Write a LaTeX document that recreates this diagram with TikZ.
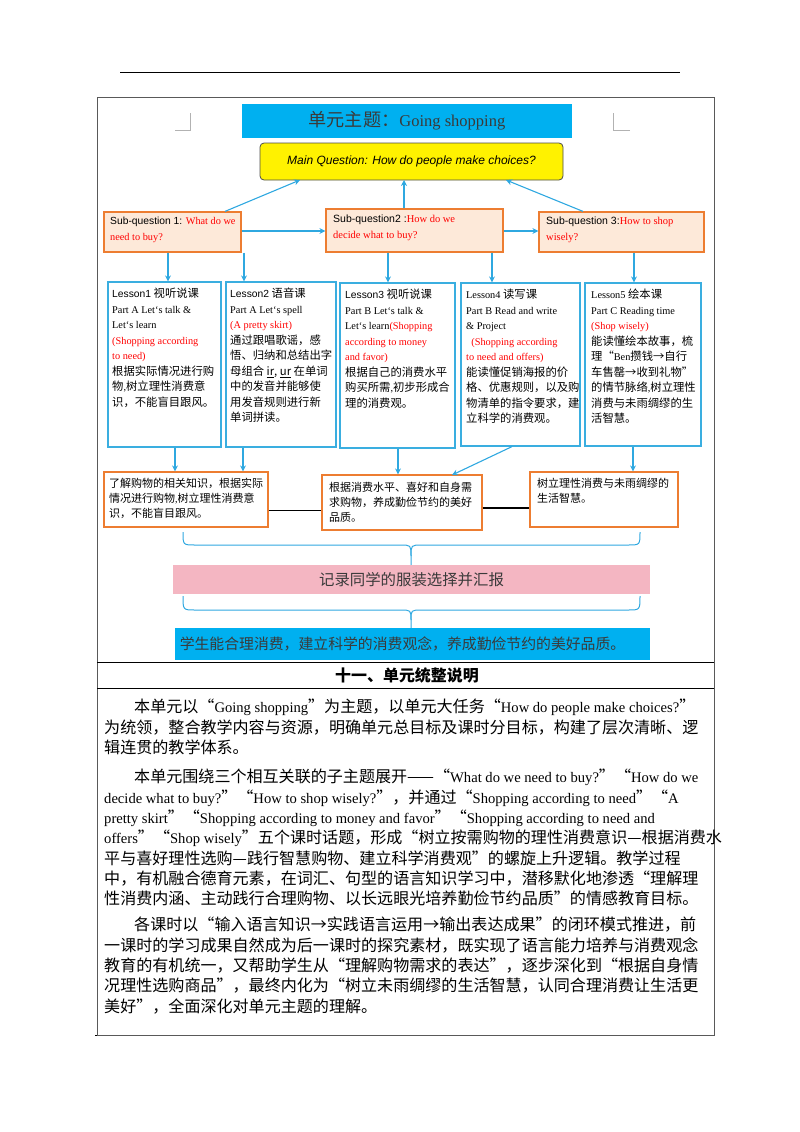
\documentclass[tikz,border=0pt]{standalone}
\usepackage{fontspec}
\usetikzlibrary{arrows.meta}
\setmainfont{Liberation Serif}
\newfontfamily\cjk[Scale=1.1]{Noto Sans CJK SC}
\newfontfamily\sansf{Liberation Sans}
\XeTeXlinebreaklocale "zh"
\XeTeXlinebreakskip=0pt plus 1pt
\newXeTeXintercharclass\cjkclass
\makeatletter
\count@="2E80 \loop\ifnum\count@<"A000 \XeTeXcharclass\count@=\cjkclass \advance\count@ 1 \repeat
\count@="3000 \loop\ifnum\count@<"3040 \XeTeXcharclass\count@=\cjkclass \advance\count@ 1 \repeat
\count@="FF00 \loop\ifnum\count@<"FFF0 \XeTeXcharclass\count@=\cjkclass \advance\count@ 1 \repeat
\makeatother
\XeTeXcharclass"201C=\cjkclass
\XeTeXcharclass"201D=\cjkclass
\XeTeXcharclass"2014=\cjkclass
\XeTeXcharclass"2192=\cjkclass
\XeTeXinterchartoks 0 \cjkclass = {\cjk}
\XeTeXinterchartoks 4095 \cjkclass = {\cjk}
\XeTeXinterchartoks \cjkclass 0 = {\rmfamily}
\XeTeXinterchartokenstate=1
\definecolor{titlec}{HTML}{00B0F0}
\definecolor{lessb}{HTML}{3AAEE0}
\definecolor{arr}{HTML}{2FA8E0}
\definecolor{sqfill}{HTML}{FDE9D9}
\definecolor{orb}{HTML}{ED7D31}
\definecolor{pinkc}{HTML}{F4B6C2}
\definecolor{redt}{HTML}{FF0000}
\definecolor{darkt}{HTML}{3A3A3A}
\tikzset{
 lbox/.style={draw=lessb,line width=1.2pt},
 sqbox/.style={draw=orb,fill=sqfill,line width=1.2pt},
 obox/.style={draw=orb,fill=white,line width=1.2pt},
 arw/.style={draw=arr,line width=1.1pt,-{Stealth[length=6pt,width=6pt]}},
 brc/.style={draw=arr,line width=1pt},
 txt/.style={inner sep=0pt,anchor=north west,align=left},
 ltxt/.style={txt,font=\fontsize{10.3}{15.5}\selectfont},
 ptxt/.style={txt,font=\fontsize{14.6}{20.3}\selectfont},
}
\begin{document}
\begin{tikzpicture}[x=1pt,y=-1pt]
\useasboundingbox (0,0) rectangle (800,1132);
% page rules
\draw[line width=0.8pt] (120,72) -- (680,72);
\draw[line width=0.8pt] (95,1035) -- (715,1035);
% table
\draw[line width=0.8pt,gray!70!black] (97,97) rectangle (714,1035);
\draw[line width=0.8pt] (97,662) -- (714,662);
\draw[line width=0.8pt] (97,688) -- (714,688);
% corner marks
\draw[gray!60,line width=0.6pt] (175,130) -- (190,130) -- (190,113);
\draw[gray!60,line width=0.6pt] (630,130) -- (613,130) -- (613,113);
% title
\node[fill=titlec,minimum width=330pt,minimum height=34pt,inner sep=0pt,font=\fontsize{16.5}{18}\selectfont,text=darkt] (title) at (407,121) {单元主题：Going shopping};
\node[draw=black!70,fill=yellow,rounded corners=4pt,line width=0.8pt,minimum width=303pt,minimum height=37pt,inner sep=0pt,font=\sansf\itshape\fontsize{12}{14}\selectfont] (mq) at (411.5,161.5) {\XeTeXinterchartokenstate=0 Main Question: How do people make choices?};
% sub-questions
\node[sqbox,minimum width=137pt,minimum height=40pt,inner sep=0pt] (sq1) at (172.5,232) {};
\node[txt,font=\fontsize{10.3}{16}\selectfont] at (110,217) {\XeTeXinterchartokenstate=0 {\sansf Sub-question 1:} \textcolor{redt}{What do we}\\\textcolor{redt}{need to buy?}};
\node[sqbox,minimum width=177pt,minimum height=43pt,inner sep=0pt] (sq2) at (414.5,230.5) {};
\node[txt,font=\fontsize{10.5}{16}\selectfont] at (333,215) {\XeTeXinterchartokenstate=0 {\sansf Sub-question2 :}\textcolor{redt}{How do we}\\\textcolor{redt}{decide what to buy?}};
\node[sqbox,minimum width=165pt,minimum height=40pt,inner sep=0pt] (sq3) at (621.5,232) {};
\node[txt,font=\fontsize{10.5}{16}\selectfont] at (546,217) {\XeTeXinterchartokenstate=0 {\sansf Sub-question 3:}\textcolor{redt}{How to shop}\\\textcolor{redt}{wisely?}};
\coordinate (mq1) at (300,180);
\coordinate (mq2) at (404,180);
\coordinate (mq3) at (506,180);
\draw[arw] (sq1.north -| 225,0) -- (mq1);
\draw[arw] (sq2.north -| 404,0) -- (mq2);
\draw[arw] (sq3.north -| 583,0) -- (mq3);
\draw[arw] (sq1.east |- 0,231) -- (sq2.west |- 0,231);
\draw[arw] (sq2.east |- 0,231) -- (sq3.west |- 0,231);
% lessons
\node[lbox,minimum width=113pt,minimum height=165pt,inner sep=0pt] (l1) at (164.5,364.5) {};
\node[lbox,minimum width=110pt,minimum height=165pt,inner sep=0pt] (l2) at (281,364.5) {};
\node[lbox,minimum width=115pt,minimum height=165pt,inner sep=0pt] (l3) at (397.5,365.5) {};
\node[lbox,minimum width=119pt,minimum height=163pt,inner sep=0pt] (l4) at (520.5,364.5) {};
\node[lbox,minimum width=116pt,minimum height=163pt,inner sep=0pt] (l5) at (643,364.5) {};
\node[ltxt] at (112,288) {{\sansf Lesson1} 视听说课\\Part A Let`s talk \&\\Let`s learn\\\textcolor{redt}{(Shopping according}\\\textcolor{redt}{to need)}\\根据实际情况进行购\\物,树立理性消费意\\识，不能盲目跟风。};
\node[ltxt] at (230,288) {{\sansf Lesson2} 语音课\\Part A Let`s spell\\\textcolor{redt}{(A pretty skirt)}\\通过跟唱歌谣，感\\悟、归纳和总结出字\\母组合 \underline{ir}, \underline{ur} 在单词\\中的发音并能够使\\用发音规则进行新\\单词拼读。};
\node[ltxt] at (345,289) {{\sansf Lesson3} 视听说课\\Part B Let`s talk \&\\Let`s learn\textcolor{redt}{(Shopping}\\\textcolor{redt}{according to money}\\\textcolor{redt}{and favor)}\\根据自己的消费水平\\购买所需,初步形成合\\理的消费观。};
\node[ltxt] at (466,289) {Lesson4\ 读写课\\Part B Read and write\\\& Project\\\ \ \textcolor{redt}{(Shopping according}\\\textcolor{redt}{to need and offers)}\\能读懂促销海报的价\\格、优惠规则，以及购\\物清单的指令要求，建\\立科学的消费观。};
\node[ltxt] at (591,289) {Lesson5\ 绘本课\\Part C Reading time\\\textcolor{redt}{(Shop wisely)}\\能读懂绘本故事，梳\\理“Ben攒钱→自行\\车售罄→收到礼物”\\的情节脉络,树立理性\\消费与未雨绸缪的生\\活智慧。};
\draw[arw] (sq1.south -| 168,0) -- (l1.north -| 168,0);
\draw[arw] (sq1.south -| 244,0) -- (l2.north -| 244,0);
\draw[arw] (sq2.south -| 388,0) -- (l3.north -| 388,0);
\draw[arw] (sq2.south -| 492,0) -- (l4.north -| 492,0);
\draw[arw] (sq3.south -| 634,0) -- (l5.north -| 634,0);
% bottom boxes
\node[obox,minimum width=164pt,minimum height=55pt,inner sep=0pt] (b1) at (186,499.5) {};
\node[obox,minimum width=160pt,minimum height=55pt,inner sep=0pt] (b2) at (402,502.5) {};
\node[obox,minimum width=148pt,minimum height=55pt,inner sep=0pt] (b3) at (604,499.5) {};
\draw[line width=0.8pt] (b1.east |- 0,510) -- (b2.west |- 0,510);
\draw[line width=1.2pt] (b2.east |- 0,508) -- (b3.west |- 0,508);
\node[ltxt,font=\fontsize{10}{15}\selectfont] at (109,478) {了解购物的相关知识，根据实际\\情况进行购物,树立理性消费意\\识，不能盲目跟风。};
\node[ltxt,font=\fontsize{10}{15}\selectfont] at (329,482) {根据消费水平、喜好和自身需\\求购物，养成勤俭节约的美好\\品质。};
\node[ltxt,font=\fontsize{10}{15}\selectfont] at (537,478) {树立理性消费与未雨绸缪的\\生活智慧。};
\draw[arw] (l1.south -| 175,0) -- (b1.north -| 175,0);
\draw[arw] (l2.south -| 243,0) -- (b1.north -| 243,0);
\draw[arw] (l3.south -| 398,0) -- (b2.north -| 398,0);
\coordinate (b2r) at (452,475);
\draw[arw] (l4.south -| 512,0) -- (b2r);
\draw[arw] (l5.south -| 633,0) -- (b3.north -| 633,0);
% braces and final boxes
\node[fill=pinkc,minimum width=477pt,minimum height=29pt,inner sep=0pt,font=\fontsize{14}{16}\selectfont,text=darkt] (rec) at (411.5,579.5) {记录同学的服装选择并汇报};
\node[fill=titlec,minimum width=475pt,minimum height=32pt,inner sep=0pt,font=\fontsize{13.5}{16}\selectfont,text=darkt] (goal) at (412.5,644) {学生能合理消费，建立科学的消费观念，养成勤俭节约的美好品质。\hspace*{20pt}};
\draw[brc] (183,532) .. controls (183,545) .. (195,545) -- (400,545) .. controls (411,545) .. (411,556) -- (rec.north -| 411,0);
\draw[brc] (640,532) .. controls (640,545) .. (628,545) -- (422,545) .. controls (411,545) .. (411,556);
\draw[brc] (183,596) .. controls (183,610) .. (195,610) -- (400,610) .. controls (411,610) .. (411,620) -- (goal.north -| 411,0);
\draw[brc] (640,596) .. controls (640,610) .. (628,610) -- (422,610) .. controls (411,610) .. (411,620);
% section
\node[font=\bfseries\fontsize{14.5}{17}\selectfont] (sec) at (407,675) {\cjk 十一、单元统整说明};
\node[ptxt] (p1) at (104,699) {\hspace*{30pt}本单元以“Going shopping”为主题，以单元大任务“How do people make choices?”\\为统领，整合教学内容与资源，明确单元总目标及课时分目标，构建了层次清晰、逻\\辑连贯的教学体系。};
\node[ptxt] (p2) at (104,769) {\hspace*{30pt}本单元围绕三个相互关联的子主题展开——“What do we need to buy?”“How do we\\decide what to buy?”“How to shop wisely?”，并通过“Shopping according to need”“A\\pretty skirt”“Shopping according to money and favor”“Shopping according to need and\\offers”“Shop wisely”五个课时话题，形成“树立按需购物的理性消费意识—根据消费水\\平与喜好理性选购—践行智慧购物、建立科学消费观”的螺旋上升逻辑。教学过程\\中，有机融合德育元素，在词汇、句型的语言知识学习中，潜移默化地渗透“理解理\\性消费内涵、主动践行合理购物、以长远眼光培养勤俭节约品质”的情感教育目标。};
\node[ptxt] (p3) at (104,917) {\hspace*{30pt}各课时以“输入语言知识→实践语言运用→输出表达成果”的闭环模式推进，前\\一课时的学习成果自然成为后一课时的探究素材，既实现了语言能力培养与消费观念\\教育的有机统一，又帮助学生从“理解购物需求的表达”，逐步深化到“根据自身情\\况理性选购商品”，最终内化为“树立未雨绸缪的生活智慧，认同合理消费让生活更\\美好”，全面深化对单元主题的理解。};
\end{tikzpicture}
\end{document}
